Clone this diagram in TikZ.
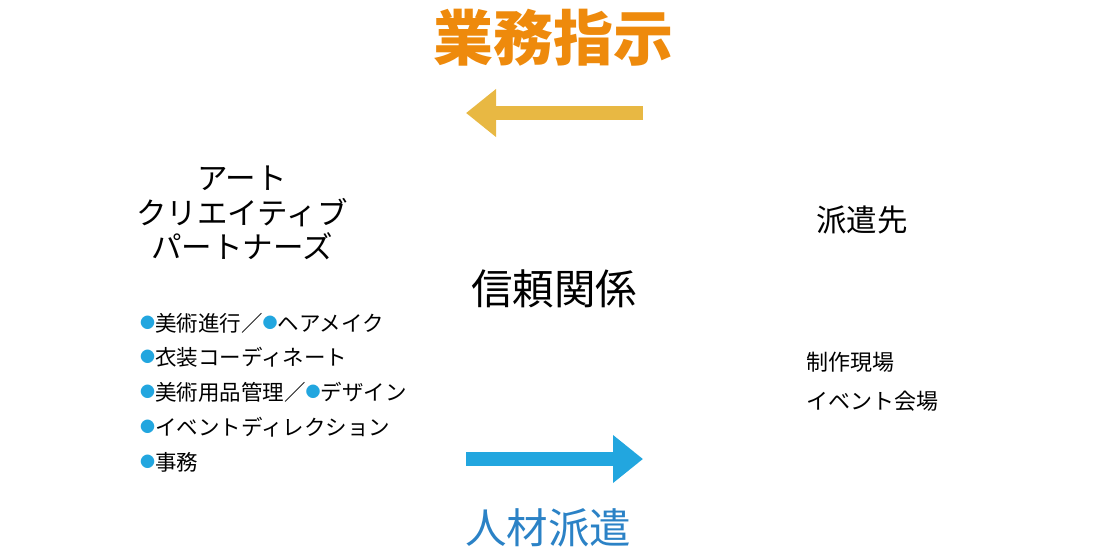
\documentclass[tikz,border=0pt]{standalone}
\usepackage{fontspec}
\setmainfont{Noto Sans CJK JP}
\usetikzlibrary{arrows.meta,positioning}
\definecolor{titleorange}{HTML}{EE8A0C}
\definecolor{arrowyellow}{HTML}{E8B843}
\definecolor{arrowblue}{HTML}{22A6DF}
\definecolor{textblue}{HTML}{2B82C6}
\tikzstyle{bigarrow}=[line width=14pt, -{Triangle[length=30pt,width=46pt]}]
\tikzstyle{note}=[inner sep=0pt, align=center]
\tikzstyle{item}=[inner sep=0pt, anchor=west, font=\fontsize{21.5}{24}\selectfont]
\newcommand{\dotmark}{\textcolor{arrowblue}{\raisebox{0.12em}{\fontsize{15}{15}\selectfont ●}}}
\begin{document}
\begin{tikzpicture}[x=1pt,y=-1pt]
		\useasboundingbox (0,0) rectangle (1110,558);
		% titles
		\node[note, text=titleorange, font=\fontsize{60}{64}\selectfont\bfseries] (order) at (553,38) {業務指示};
		\node[note, text=textblue, font=\fontsize{41.5}{44}\selectfont] (dispatch) at (548,528) {人材派遣};
		\node[note, font=\fontsize{41.5}{44}\selectfont] (trust) at (554,289) {信頼関係};
		
		% arrows
		\coordinate (yA) at (643,113);
		\coordinate (yB) at (466,113);
		\coordinate (bA) at (466,459);
		\coordinate (bB) at (643,459);
		\draw[bigarrow, arrowyellow] (yA) -- (yB);
		\draw[bigarrow, arrowblue] (bA) -- (bB);
		
		% left side
		\node[note, font=\fontsize{30.5}{34.5}\selectfont] (partners) at (242,213) {アート\\クリエイティブ\\パートナーズ};
		\foreach \y/\name/\txt in {
			323/i1/{\dotmark 美術進行／\dotmark ヘアメイク},
			357/i2/{\dotmark 衣装コーディネート},
			392/i3/{\dotmark 美術用品管理／\dotmark デザイン},
			427/i4/{\dotmark イベントディレクション},
			462/i5/{\dotmark 事務}}
		\node[item] (\name) at (140,\y) {\txt};
		
		% right side
		\node[note, font=\fontsize{30.5}{34}\selectfont] (client) at (862,220) {派遣先};
		\node[item, font=\fontsize{22}{24}\selectfont] (site1) at (806,362) {制作現場};
		\node[item, font=\fontsize{22}{24}\selectfont] (site2) at (806,401) {イベント会場};
\end{tikzpicture}
\end{document}
